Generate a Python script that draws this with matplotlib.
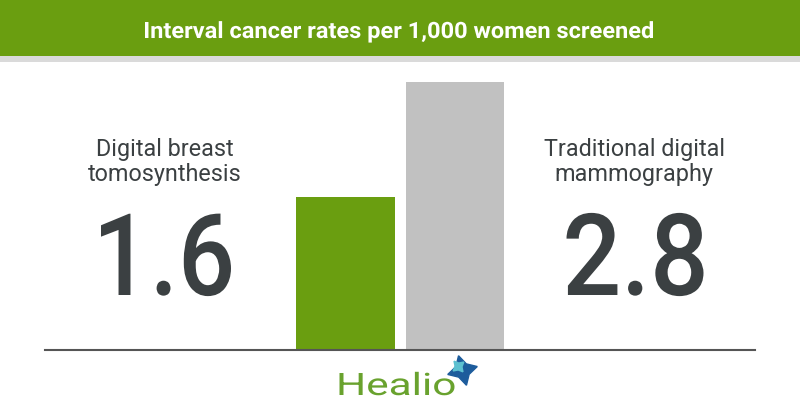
import matplotlib.pyplot as plt
from matplotlib.textpath import TextPath
from matplotlib.patches import PathPatch, Rectangle
from matplotlib.font_manager import FontProperties
from matplotlib.transforms import Affine2D

# data
labels = ['Digital breast\ntomosynthesis', 'Traditional digital\nmammography']
rates = [1.6, 2.8]
value_text = ['1.6', '2.8']
bar_colors = ['#6a9e10', '#c1c1c1']
title = 'Interval cancer rates per 1,000 women screened'

dark = '#3b4042'
green = '#6a9e10'
W, H = 800, 420

fig = plt.figure(figsize=(8, 4.2), dpi=100)
px = Affine2D().scale(1 / W, 1 / H) + fig.transFigure


def fit_text(s, cx, base, width, cap, color, prop):
    # draw text as a path, stretched to a given width and cap height (pixels, y from top)
    tp = TextPath((0, 0), s, size=100, prop=prop)
    bb = tp.get_extents()
    caph = TextPath((0, 0), 'H', size=100, prop=prop).get_extents().height
    tr = (Affine2D().translate(-(bb.x0 + bb.width / 2), 0)
          .scale(width / bb.width, cap / caph).translate(cx, H - base))
    fig.add_artist(PathPatch(tp, transform=tr + px, facecolor=color, edgecolor='none', lw=0))


# header band and grey stripe
fig.add_artist(Rectangle((0, H - 56), W, 56, transform=px, facecolor=green, edgecolor='none'))
fig.add_artist(Rectangle((0, H - 62), W, 6, transform=px, facecolor='#dadada', edgecolor='none'))
fit_text(title, 399, 38, 508, 16, 'white', FontProperties(family='Roboto', weight='bold'))

# bar axes: baseline at y=350 px, 2.8 reaches y=82 px
ax = fig.add_axes([45 / W, 70 / H, 710 / W, 268 / H])
ax.bar([0, 1], rates, width=0.9, color=bar_colors)
ax.set_xlim(-2.744, 3.740)
ax.set_ylim(0, 2.8)
ax.axis('off')
ax.axhline(0, color='#555555', lw=1.5, clip_on=False)

# side labels
for x, lab, val in [(165, labels[0], value_text[0]), (634, labels[1], value_text[1])]:
    fig.text(x / W, 1 - 162 / H, lab, ha='center', va='center', color=dark,
             fontsize=16.8, family='Roboto', linespacing=1.15)
    fit_text(val, x + 1, 295, 130 if val == '1.6' else 137, 81, dark,
             FontProperties(family='Roboto', weight='medium'))

# logo
fit_text('Healio', 397, 395, 115, 22, '#69a22e', FontProperties(family='Roboto'))
fig.add_artist(plt.Line2D([462], [H - 370], transform=px, marker=(4, 1, 15),
                          markersize=22, color='#1d5c9c', ls='none'))
fig.add_artist(plt.Line2D([458], [H - 366], transform=px, marker=(4, 1, 40),
                          markersize=10, color='#5cc0d0', ls='none'))

fig.savefig('out.png', dpi=100)
